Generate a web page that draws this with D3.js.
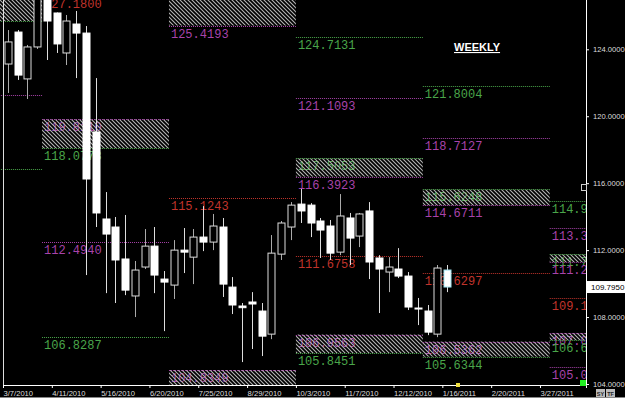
<!DOCTYPE html>
<html>
<head>
<meta charset="utf-8">
<script src="https://cdn.jsdelivr.net/npm/d3@7"></script>
<style>
  body { margin: 0; background: #000; overflow: hidden; }
  svg { display: block; }
</style>
</head>
<body>
<svg id="chart"></svg>
<script>
// weekly bars
const weekStarts = ['2010-03-07','2010-03-14','2010-03-21','2010-03-28','2010-04-04','2010-04-11','2010-04-18','2010-04-25',
  '2010-05-02','2010-05-09','2010-05-16','2010-05-23','2010-05-30','2010-06-06','2010-06-13','2010-06-20','2010-06-27',
  '2010-07-04','2010-07-11','2010-07-18','2010-07-25','2010-08-01','2010-08-08','2010-08-15','2010-08-22','2010-08-29',
  '2010-09-05','2010-09-12','2010-09-19','2010-09-26','2010-10-03','2010-10-10','2010-10-17','2010-10-24','2010-10-31',
  '2010-11-07','2010-11-14','2010-11-21','2010-11-28','2010-12-05','2010-12-12','2010-12-19','2010-12-26',
  '2011-01-02','2011-01-09','2011-01-16'];
const opens = [123.12,125.03,122.23,124.14,127.10,126.17,123.78,125.51,124.97,119.06,113.86,113.38,111.47,109.26,110.99,112.24,
  110.27,109.91,112.00,111.58,112.78,112.48,113.38,109.79,108.66,108.90,108.36,106.98,111.76,113.38,114.75,114.69,113.74,
  113.44,111.88,113.92,112.84,114.34,111.53,110.69,110.87,110.45,108.54,108.36,106.98,110.81];
const highs = [125.15,125.15,124.26,127.45,127.40,126.20,126.05,126.29,125.39,122.28,115.47,113.98,114.10,111.35,113.26,113.38,
  110.75,112.60,113.32,113.26,114.63,114.16,113.92,110.39,108.84,109.49,108.84,112.90,113.74,114.87,115.65,114.81,113.92,
  113.80,115.35,114.22,114.22,114.87,111.70,111.58,112.12,110.69,109.14,108.72,111.11,111.11];
const lows = [121.39,122.17,121.03,124.02,123.36,123.78,123.06,122.28,110.51,113.38,109.43,108.84,109.31,108.00,110.87,109.43,
  107.16,109.08,110.63,109.97,111.94,112.00,109.20,108.18,105.31,106.09,105.67,106.68,111.41,112.60,113.62,112.78,111.53,
  111.41,111.70,111.11,112.18,110.27,108.24,109.49,110.33,108.42,107.52,106.92,106.80,109.49];
const closes = [124.44,122.46,124.14,127.30,125.69,124.32,125.69,124.97,116.25,114.22,112.96,111.41,109.61,110.81,112.24,110.51,
  110.09,112.00,111.88,112.78,112.48,113.44,109.97,108.72,108.56,108.78,106.86,111.82,113.62,114.69,114.34,113.62,113.20,
  111.82,114.04,112.72,114.16,111.29,110.87,110.99,110.45,108.60,108.48,107.10,110.93,109.795];

const tickDates = ['2010-03-07','2010-04-11','2010-05-16','2010-06-20','2010-07-25','2010-08-29',
  '2010-10-03','2010-11-07','2010-12-12','2011-01-16','2011-02-20','2011-03-27'];
const priceTicks = [104, 108, 112, 116, 120, 124];

// quarterly pivot levels (R = resistance, P = pivot, S = support)
const quarterStarts = ['2010-01-03','2010-04-04','2010-07-04','2010-10-03','2011-01-02','2011-04-03','2011-07-03'];
const levelQuarter = [0, 0, 1, 1, 1, 2, 3, 3, 3, 4, 4, 4, 5, 5, 5, 5];
const levelValue = [121.2700, 116.8300, 127.1800, 112.4940, 106.8287, 115.1243, 124.7131, 121.1093, 111.6758,
  121.8004, 118.7127, 110.6297, 114.9350, 113.3020, 109.1150, 105.0110];
const levelKind = ['P','S','R','P','S','R','S','P','R','S','P','R','S','P','R','P'];

const zoneQuarter = [0, 1, 2, 2, 3, 3, 4, 4, 5, 5];
const zoneTop = [128.5000, 119.8110, 128.2000, 104.8349, 117.5053, 106.9563, 115.6248, 106.5362, 111.7600, 107.0500];
const zoneBottom = [125.6900, 118.0778, 125.4193, 103.2000, 116.3923, 105.8451, 114.6711, 105.6344, 111.2900, 106.6200];
const zoneTopKind = ['R','P','R','P','S','P','S','P','S','P'];
const zoneBottomKind = ['S','S','P','S','P','S','P','S','P','S'];

const lastPrice = 109.795;
const chartTitle = 'WEEKLY';

class CandleChart {
  constructor(_config) {
    this.config = {
      parentElement: _config.parentElement,
      containerWidth: _config.containerWidth || 625,
      containerHeight: _config.containerHeight || 398
    };
    this.initVis();
  }

  initVis() {
    let vis = this;
    const parse = d3.utcParse('%Y-%m-%d');

    vis.plotRight = 586;
    vis.plotBottom = 385;

    vis.data = weekStarts.map((w, i) => ({
      date: parse(w), open: opens[i], high: highs[i], low: lows[i], close: closes[i]
    }));

    vis.edges = levelValue.map((v, i) => ({ q: levelQuarter[i], value: v, kind: levelKind[i] }))
      .concat(zoneTop.map((v, i) => ({ q: zoneQuarter[i], value: v, kind: zoneTopKind[i] })))
      .concat(zoneBottom.map((v, i) => ({ q: zoneQuarter[i], value: v, kind: zoneBottomKind[i] })));
    vis.zones = zoneTop.map((v, i) => ({ q: zoneQuarter[i], top: v, bottom: zoneBottom[i] }));
    vis.quarters = quarterStarts.map(parse);

    vis.kindColor = { R: '#c0342c', P: '#a843aa', S: '#4aa64a' };

    vis.xScale = d3.scaleUtc()
      .domain([parse('2010-03-07'), parse('2011-04-29')])
      .range([3, vis.plotRight]);
    vis.yScale = d3.scaleLinear()
      .domain([104, 124])
      .range([384, 49.3]);

    vis.svg = d3.select(vis.config.parentElement)
      .attr('width', vis.config.containerWidth)
      .attr('height', vis.config.containerHeight)
      .style('font-family', 'Liberation Sans, Arial, sans-serif');

    const defs = vis.svg.append('defs');
    defs.append('clipPath').attr('id', 'plot-clip')
      .append('rect')
      .attr('x', 0).attr('y', 0)
      .attr('width', vis.plotRight).attr('height', vis.plotBottom);

    defs.append('pattern')
      .attr('id', 'hatch')
      .attr('patternUnits', 'userSpaceOnUse')
      .attr('width', 4).attr('height', 4)
      .append('path')
      .attr('d', 'M-1,-1 L5,5 M3,-1 L5,1 M-1,3 L1,5')
      .attr('stroke', '#b4b4b4')
      .attr('stroke-width', 1.1);

    vis.plot = vis.svg.append('g').attr('clip-path', 'url(#plot-clip)');
    vis.labelG = vis.plot.append('g');
    vis.zoneG = vis.plot.append('g');
    vis.lineG = vis.plot.append('g');
    vis.candleG = vis.plot.append('g');

    vis.xAxisG = vis.svg.append('g')
      .attr('transform', `translate(0,${vis.plotBottom})`);
    vis.yAxisG = vis.svg.append('g')
      .attr('transform', `translate(${vis.plotRight},0)`);

    vis.renderVis();
  }

  renderVis() {
    let vis = this;
    const x = vis.xScale, y = vis.yScale;
    const halfWeek = (x(d3.utcDay.offset(vis.data[0].date, 7)) - x(vis.data[0].date)) / 2;
    const bodyW = 7;
    const fmt = d3.format('.4f');

    // hatched zones
    vis.zoneG.selectAll('rect')
      .data(vis.zones)
      .join('rect')
        .attr('x', d => x(vis.quarters[d.q]))
        .attr('width', d => x(vis.quarters[d.q + 1]) - x(vis.quarters[d.q]))
        .attr('y', d => y(d.top))
        .attr('height', d => y(d.bottom) - y(d.top))
        .attr('fill', 'url(#hatch)');

    // dotted level lines
    vis.lineG.selectAll('line')
      .data(vis.edges)
      .join('line')
        .attr('x1', d => x(vis.quarters[d.q]))
        .attr('x2', d => x(vis.quarters[d.q + 1]))
        .attr('y1', d => Math.round(y(d.value)) + 0.5)
        .attr('y2', d => Math.round(y(d.value)) + 0.5)
        .attr('stroke', d => vis.kindColor[d.kind])
        .attr('stroke-dasharray', '1,1');

    // labels sit under their line; skip the ones that would fall fully outside the plot
    const visible = d => x(vis.quarters[d.q]) >= 0 && y(d.value) + 12 > 4 && y(d.value) < vis.plotBottom;
    vis.labelG.selectAll('text')
      .data(vis.edges.filter(visible))
      .join('text')
        .attr('x', d => x(vis.quarters[d.q]) + 2)
        .attr('y', d => y(d.value) + 12)
        .attr('fill', d => vis.kindColor[d.kind])
        .style('font-family', 'Liberation Mono, DejaVu Sans Mono, monospace')
        .style('font-size', '12px')
        .text(d => fmt(d.value));

    // candles
    const candle = vis.candleG.selectAll('g')
      .data(vis.data)
      .join('g')
        .attr('transform', d => `translate(${Math.round(x(d.date) + halfWeek) + 0.5},0)`);

    candle.append('line')
      .attr('y1', d => y(d.high))
      .attr('y2', d => y(d.low))
      .attr('stroke', d => d.close > d.open ? '#aaa' : '#ddd');

    candle.append('rect')
      .attr('x', -bodyW / 2)
      .attr('width', bodyW)
      .attr('y', d => y(Math.max(d.open, d.close)))
      .attr('height', d => Math.max(1, Math.abs(y(d.open) - y(d.close))))
      .attr('fill', d => d.close > d.open ? '#000' : '#fff')
      .attr('stroke', (d, i) => i === vis.data.length - 1 ? '#9fe3f0' : (d.close > d.open ? '#ddd' : '#fff'))
      .attr('stroke-width', 1);

    // frame lines
    vis.svg.append('line')
      .attr('x1', 3.5).attr('x2', 3.5)
      .attr('y1', 0).attr('y2', vis.plotBottom)
      .attr('stroke', '#ddd');
    vis.svg.append('line')
      .attr('x1', vis.plotRight + 0.5).attr('x2', vis.plotRight + 0.5)
      .attr('y1', 0).attr('y2', vis.plotBottom)
      .attr('stroke', '#fff');

    // axes
    vis.xAxis = d3.axisBottom(x)
      .tickValues(tickDates.map(d3.utcParse('%Y-%m-%d')))
      .tickFormat(d3.utcFormat('%-m/%-d/%Y'))
      .tickSizeOuter(0)
      .tickSize(3);
    vis.xAxisG.call(vis.xAxis);
    vis.xAxisG.select('.domain').attr('stroke', '#fff');
    vis.xAxisG.selectAll('.tick line').attr('stroke', '#fff');
    vis.xAxisG.selectAll('.tick text')
      .attr('fill', '#ddd')
      .attr('text-anchor', 'start')
      .attr('y', 11).attr('dy', 0)
      .style('font-size', '7.6px');

    vis.yAxis = d3.axisRight(y)
      .tickValues(priceTicks)
      .tickFormat(fmt)
      .tickSize(3)
      .tickPadding(4);
    vis.yAxisG.call(vis.yAxis);
    vis.yAxisG.select('.domain').remove();
    vis.yAxisG.selectAll('.tick line').attr('stroke', '#fff');
    vis.yAxisG.selectAll('.tick text')
      .attr('fill', '#ddd')
      .style('font-size', '7.6px');

    // last price tag
    const tag = vis.svg.append('g')
      .attr('transform', `translate(${vis.plotRight + 1},${y(lastPrice)})`);
    tag.append('rect')
      .attr('x', 0).attr('y', -6)
      .attr('width', 38).attr('height', 12)
      .attr('fill', '#fff');
    tag.append('text')
      .attr('x', 4).attr('y', 0).attr('dy', '0.35em')
      .attr('fill', '#000')
      .style('font-size', '8px')
      .text(fmt(lastPrice));

    // title
    vis.svg.append('text')
      .attr('x', 454).attr('y', 51)
      .attr('fill', '#fff')
      .style('font-size', '11px')
      .style('font-weight', 'bold')
      .style('text-decoration', 'underline')
      .text(chartTitle);

    // small widgets
    vis.svg.append('rect')
      .attr('x', 580).attr('y', 380).attr('width', 6).attr('height', 6)
      .attr('fill', '#22ee22');
    vis.svg.append('rect')
      .attr('x', 456).attr('y', 383).attr('width', 4).attr('height', 4)
      .attr('fill', '#f0e040');
    vis.svg.append('rect')
      .attr('x', 581.5).attr('y', 184.5).attr('width', 5).attr('height', 6)
      .attr('fill', '#000').attr('stroke', '#ccc');
    ['SY', 'TF'].forEach((t, i) => {
      vis.svg.append('rect')
        .attr('x', 596 + i * 10).attr('y', 389).attr('width', 9).attr('height', 8)
        .attr('fill', '#bbb');
      vis.svg.append('text')
        .attr('x', 600.5 + i * 10).attr('y', 395.5)
        .attr('text-anchor', 'middle')
        .attr('fill', '#222')
        .style('font-size', '5.5px')
        .style('font-weight', 'bold')
        .text(t);
    });
    vis.svg.append('rect')
      .attr('x', 0).attr('y', 397).attr('width', 625).attr('height', 1)
      .attr('fill', '#888');
  }
}

const chart = new CandleChart({ parentElement: '#chart' });
</script>
</body>
</html>
